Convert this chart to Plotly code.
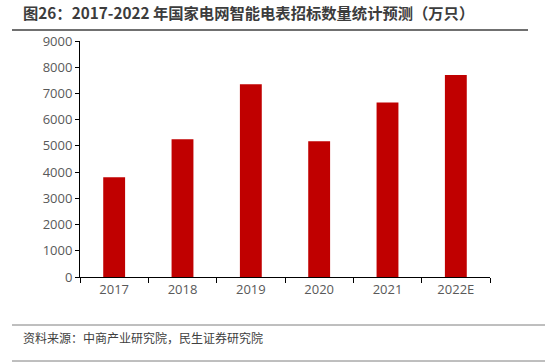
import plotly.graph_objects as go

categories = ["2017", "2018", "2019", "2020", "2021", "2022E"]
values = [3800, 5250, 7350, 5180, 6650, 7700]
y_ticks = [0, 1000, 2000, 3000, 4000, 5000, 6000, 7000, 8000, 9000]

title_text = "图26：2017-2022 年国家电网智能电表招标数量统计预测（万只）"
source_text = "资料来源：中商产业研究院，民生证券研究院"

fig = go.Figure(go.Bar(x=categories, y=values, marker=dict(color="#C00000", line=dict(width=0))))

font_family = "Noto Sans CJK SC, Noto Sans, sans-serif"
num_family = "Open Sans, Noto Sans, sans-serif"

fig.update_layout(
    width=545, height=363,
    margin=dict(l=80, r=55, t=41, b=86, autoexpand=False),
    paper_bgcolor="white", plot_bgcolor="white",
    bargap=0.68,
    showlegend=False,
    font=dict(family=num_family, color="#595959", size=13),
    xaxis=dict(
        showline=True, linecolor="black", linewidth=1,
        ticks="outside", tickson="boundaries", ticklen=5, tickcolor="black",
        tickfont=dict(size=13, color="#595959", family=num_family),
    ),
    yaxis=dict(
        range=[0, 9000], tickvals=y_ticks, showgrid=False, zeroline=False,
        showline=True, linecolor="black", linewidth=1,
        ticks="outside", ticklen=4, tickcolor="black",
        tickfont=dict(size=13, color="#595959", family=num_family),
    ),
    annotations=[
        dict(text="<b>" + title_text + "</b>", xref="paper", yref="paper",
             x=(21 - 80) / 410, y=1 + (41 - 12) / 236, xanchor="left", yanchor="middle",
             showarrow=False, font=dict(size=15.3, color="#3c3c3c", family=font_family)),
        dict(text=source_text, xref="paper", yref="paper",
             x=(21 - 80) / 410, y=-(337 - 277) / 236, xanchor="left", yanchor="middle",
             showarrow=False, font=dict(size=12, color="#404040", family=font_family)),
    ],
    shapes=[
        dict(type="line", xref="paper", yref="paper",
             x0=(12 - 80) / 410, x1=(528 - 80) / 410,
             y0=1 + (41 - 30) / 236, y1=1 + (41 - 30) / 236,
             line=dict(color="#404040", width=1.5)),
        dict(type="line", xref="paper", yref="paper",
             x0=(12 - 80) / 410, x1=(545 - 80) / 410,
             y0=-(325 - 277) / 236, y1=-(325 - 277) / 236,
             line=dict(color="#7f7f7f", width=1)),
        dict(type="line", xref="paper", yref="paper",
             x0=(12 - 80) / 410, x1=(545 - 80) / 410,
             y0=-(361 - 277) / 236, y1=-(361 - 277) / 236,
             line=dict(color="#7f7f7f", width=1)),
    ],
)

fig.write_html("out.html", config={"displayModeBar": False},
               post_script="document.body.style.margin='0';")
